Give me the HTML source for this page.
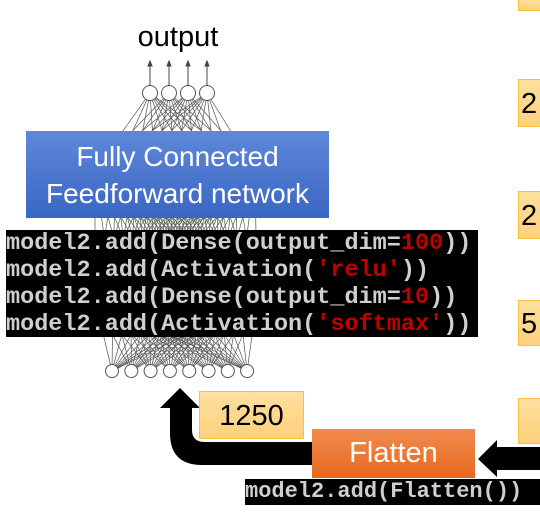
<!DOCTYPE html>
<html><head><style>
body{margin:0;width:540px;height:516px;background:#fff;overflow:hidden;position:relative;font-family:"Liberation Sans",sans-serif}
.a{position:absolute}
.code{background:#000;color:#cfcfcf;font-family:"Liberation Mono","DejaVu Sans Mono",monospace;font-weight:bold;white-space:pre}
.r{color:#c00000}
.yb{background:linear-gradient(#ffe0a0,#fdd07c);border:1px solid #f5c242;box-sizing:border-box}
</style></head><body>
<svg class="a" style="left:0;top:0" width="540" height="516">
<g stroke="#555" stroke-width="0.7" id="net"></g>
<g id="nodes" fill="#fff" stroke="#555" stroke-width="1"></g>
<g stroke="#444" stroke-width="1" fill="#444">
<line x1="150" y1="86" x2="150" y2="64"/><line x1="169" y1="86" x2="169" y2="64"/><line x1="188" y1="86" x2="188" y2="64"/><line x1="207" y1="86" x2="207" y2="64"/>
<polygon points="150,61 148,66 152,66"/><polygon points="169,61 167,66 171,66"/><polygon points="188,61 186,66 190,66"/><polygon points="207,61 205,66 209,66"/>
</g>
<path d="M170 408 L170 433 Q170 465 202 465 L312 465 L312 442 L205 442 Q192 442 192 430 L192 408 L200 408 L180 388 L160 408 Z" fill="#000"/>
<path d="M540 447 L497 447 L497 440 L478 459 L497 477 L497 470 L540 470 Z" fill="#000"/>
</svg>
<script>
(function(){
var ns="http://www.w3.org/2000/svg",net=document.getElementById("net"),nd=document.getElementById("nodes");
var top=[150,169,188,207].map(function(x){return[x,93]});
var h1=[],h2=[],bot=[];
for(var i=0;i<9;i++)h1.push([95+i*20,170]);
for(var i=0;i<10;i++)h2.push([95+i*18,300]);
for(var i=0;i<8;i++)bot.push([112+i*19.3,371]);
function L(a,b){a.forEach(function(p){b.forEach(function(q){var l=document.createElementNS(ns,"line");l.setAttribute("x1",p[0]);l.setAttribute("y1",p[1]);l.setAttribute("x2",q[0]);l.setAttribute("y2",q[1]);net.appendChild(l)})})}
L(top,h1);L(h1,h2);L(h2,bot);
function C(a,r){a.forEach(function(p){var c=document.createElementNS(ns,"circle");c.setAttribute("cx",p[0]);c.setAttribute("cy",p[1]);c.setAttribute("r",r);nd.appendChild(c)})}
C(top,7.5);C(bot,6.5);
})();
</script>
<div class="a" style="left:0;width:356px;top:20px;text-align:center;font-size:29px;line-height:34px">output</div>
<div class="a" style="left:26px;top:131px;width:303px;height:87px;background:linear-gradient(#5e88d8,#3a66c4);color:#fff;font-size:28px;line-height:37px;text-align:center;padding-top:7px;box-sizing:border-box;white-space:nowrap">Fully Connected<br>Feedforward network</div>
<div class="a code" style="left:6px;top:230px;width:472px;height:107px;font-size:23.5px;line-height:27px;padding-top:0">model2.add(Dense(output_dim=<span class="r">100</span>))
model2.add(Activation(<span class="r">'relu'</span>))
model2.add(Dense(output_dim=<span class="r">10</span>))
model2.add(Activation(<span class="r">'softmax'</span>))</div>
<div class="a yb" style="left:199px;top:391px;width:105px;height:48px;font-size:29px;line-height:48px;text-align:center">1250</div>
<div class="a" style="left:312px;top:429px;width:163px;height:49px;background:linear-gradient(#f08a50,#e8691c);color:#fff;font-size:29px;line-height:49px;text-align:center">Flatten</div>
<div class="a code" style="left:245px;top:479px;width:295px;height:26px;font-size:22px;line-height:26px">model2.add(Flatten())</div>
<div class="a yb" style="left:518px;top:-2px;width:30px;height:13px"></div>
<div class="a yb" style="left:518px;top:79px;width:30px;height:48px;font-size:29px;line-height:48px;padding-left:2px">2</div>
<div class="a yb" style="left:518px;top:191px;width:30px;height:48px;font-size:29px;line-height:48px;padding-left:2px">2</div>
<div class="a yb" style="left:518px;top:300px;width:30px;height:46px;font-size:29px;line-height:46px;padding-left:2px">5</div>
<div class="a yb" style="left:518px;top:398px;width:30px;height:46px"></div>
</body></html>
